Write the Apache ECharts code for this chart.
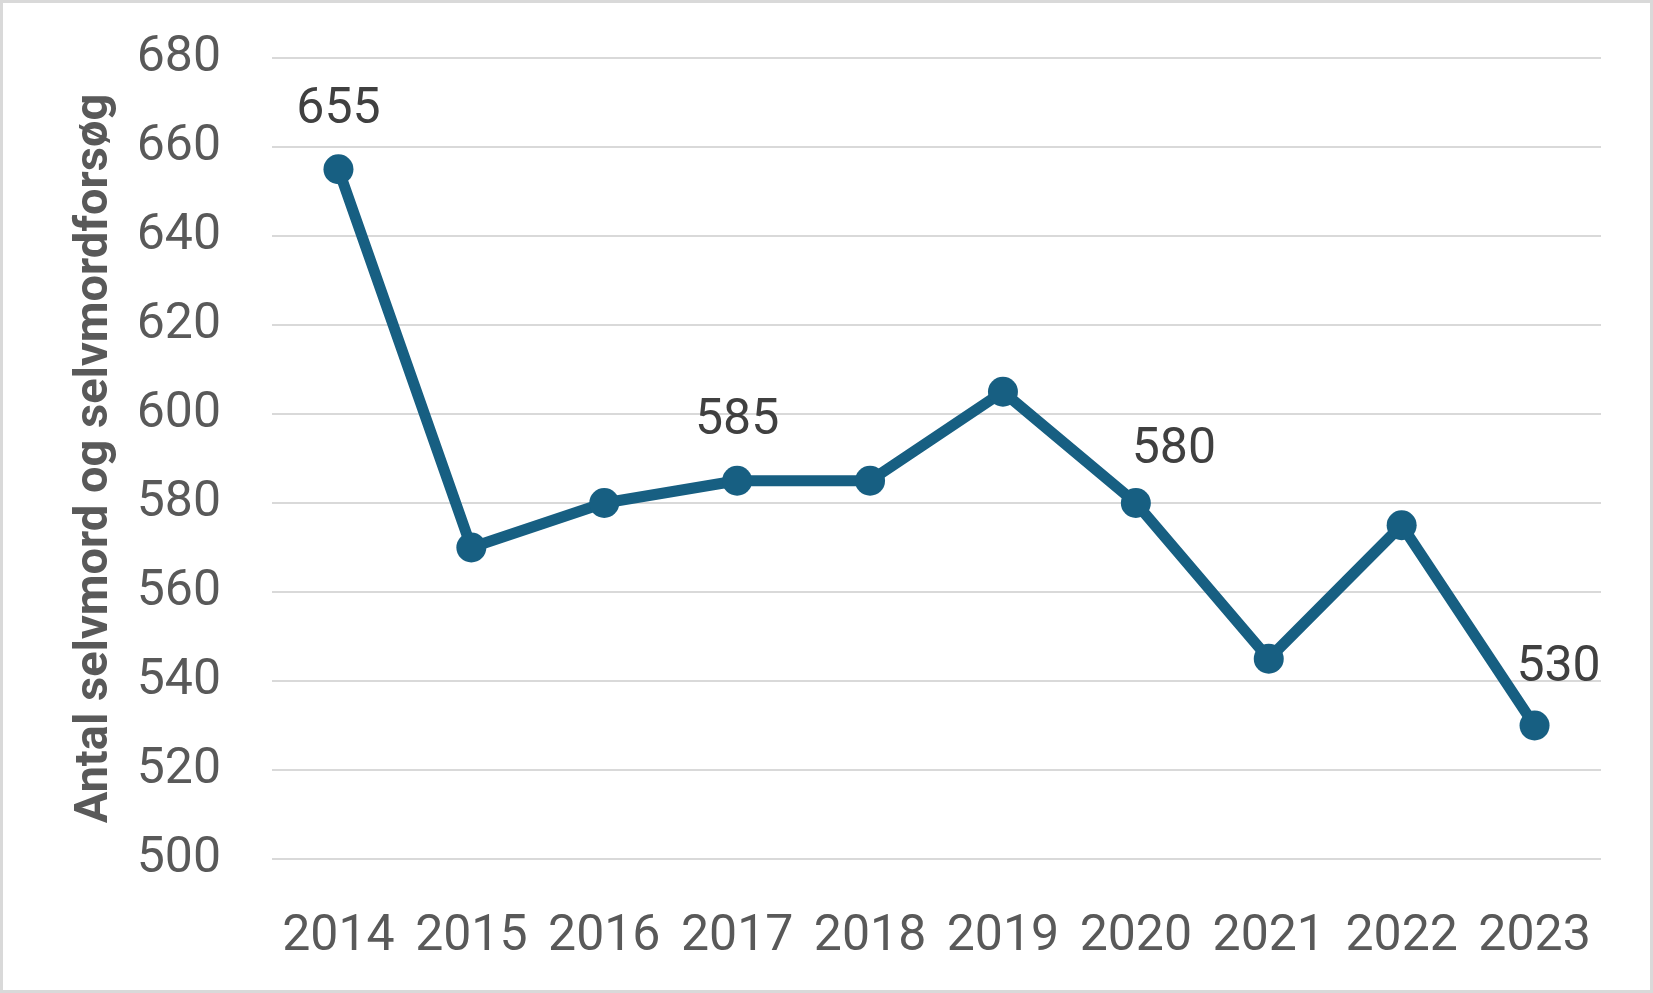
<!DOCTYPE html>
<html><head><meta charset="utf-8">
<script src="https://cdn.jsdelivr.net/npm/echarts@6/dist/echarts.min.js"></script>
<style>html,body{margin:0;padding:0;background:#fff}#c{width:1653px;height:993px}</style>
</head><body><div id="c"></div>
<script>
const years = ['2014','2015','2016','2017','2018','2019','2020','2021','2022','2023'];
const values = [655, 570, 580, 585, 585, 605, 580, 545, 575, 530];
const labelledYears = ['2014','2017','2020','2023'];
const yTitle = 'Antal selvmord og selvmordforsøg';

const labelOffsets = {'2014':[0,-12],'2017':[0,-12],'2020':[38,-6],'2023':[24,-10]};
const seriesData = values.map((v,i)=>{
  const y = years[i];
  if (labelledYears.includes(y)) {
    return {value:v, label:{show:true, position:'top', distance:7, offset:labelOffsets[y]}};
  }
  return v;
});

const chart = echarts.init(document.getElementById('c'));
chart.setOption({
  animation:false,
  grid:{left:272, right:52, top:58, bottom:134},
  graphic:[{type:'rect', shape:{x:1.5,y:1.5,width:1650,height:990}, style:{fill:'none', stroke:'#d9d9d9', lineWidth:3}}],
  xAxis:{type:'category', data:years, boundaryGap:true,
    axisLine:{show:false}, axisTick:{show:false},
    axisLabel:{color:'#595959', fontSize:50, fontFamily:'Roboto', margin:53, interval:0}},
  yAxis:{type:'value', min:500, max:680, interval:20,
    name:yTitle, nameLocation:'middle', nameGap:153, nameRotate:90,
    nameTextStyle:{color:'#595959', fontSize:47, fontWeight:'bold', fontFamily:'Roboto'},
    axisLine:{show:false}, axisTick:{show:false},
    splitLine:{lineStyle:{color:'#d9d9d9', width:2}},
    axisLabel:{color:'#595959', fontSize:50, fontFamily:'Roboto', margin:51, padding:[6,0,0,0]}},
  series:[{type:'line', data:seriesData, symbol:'circle', symbolSize:30,
    lineStyle:{color:'#175f82', width:11}, itemStyle:{color:'#175f82'},
    label:{show:false, color:'#404040', fontSize:50, fontFamily:'Roboto'}}]
});
</script></body></html>
